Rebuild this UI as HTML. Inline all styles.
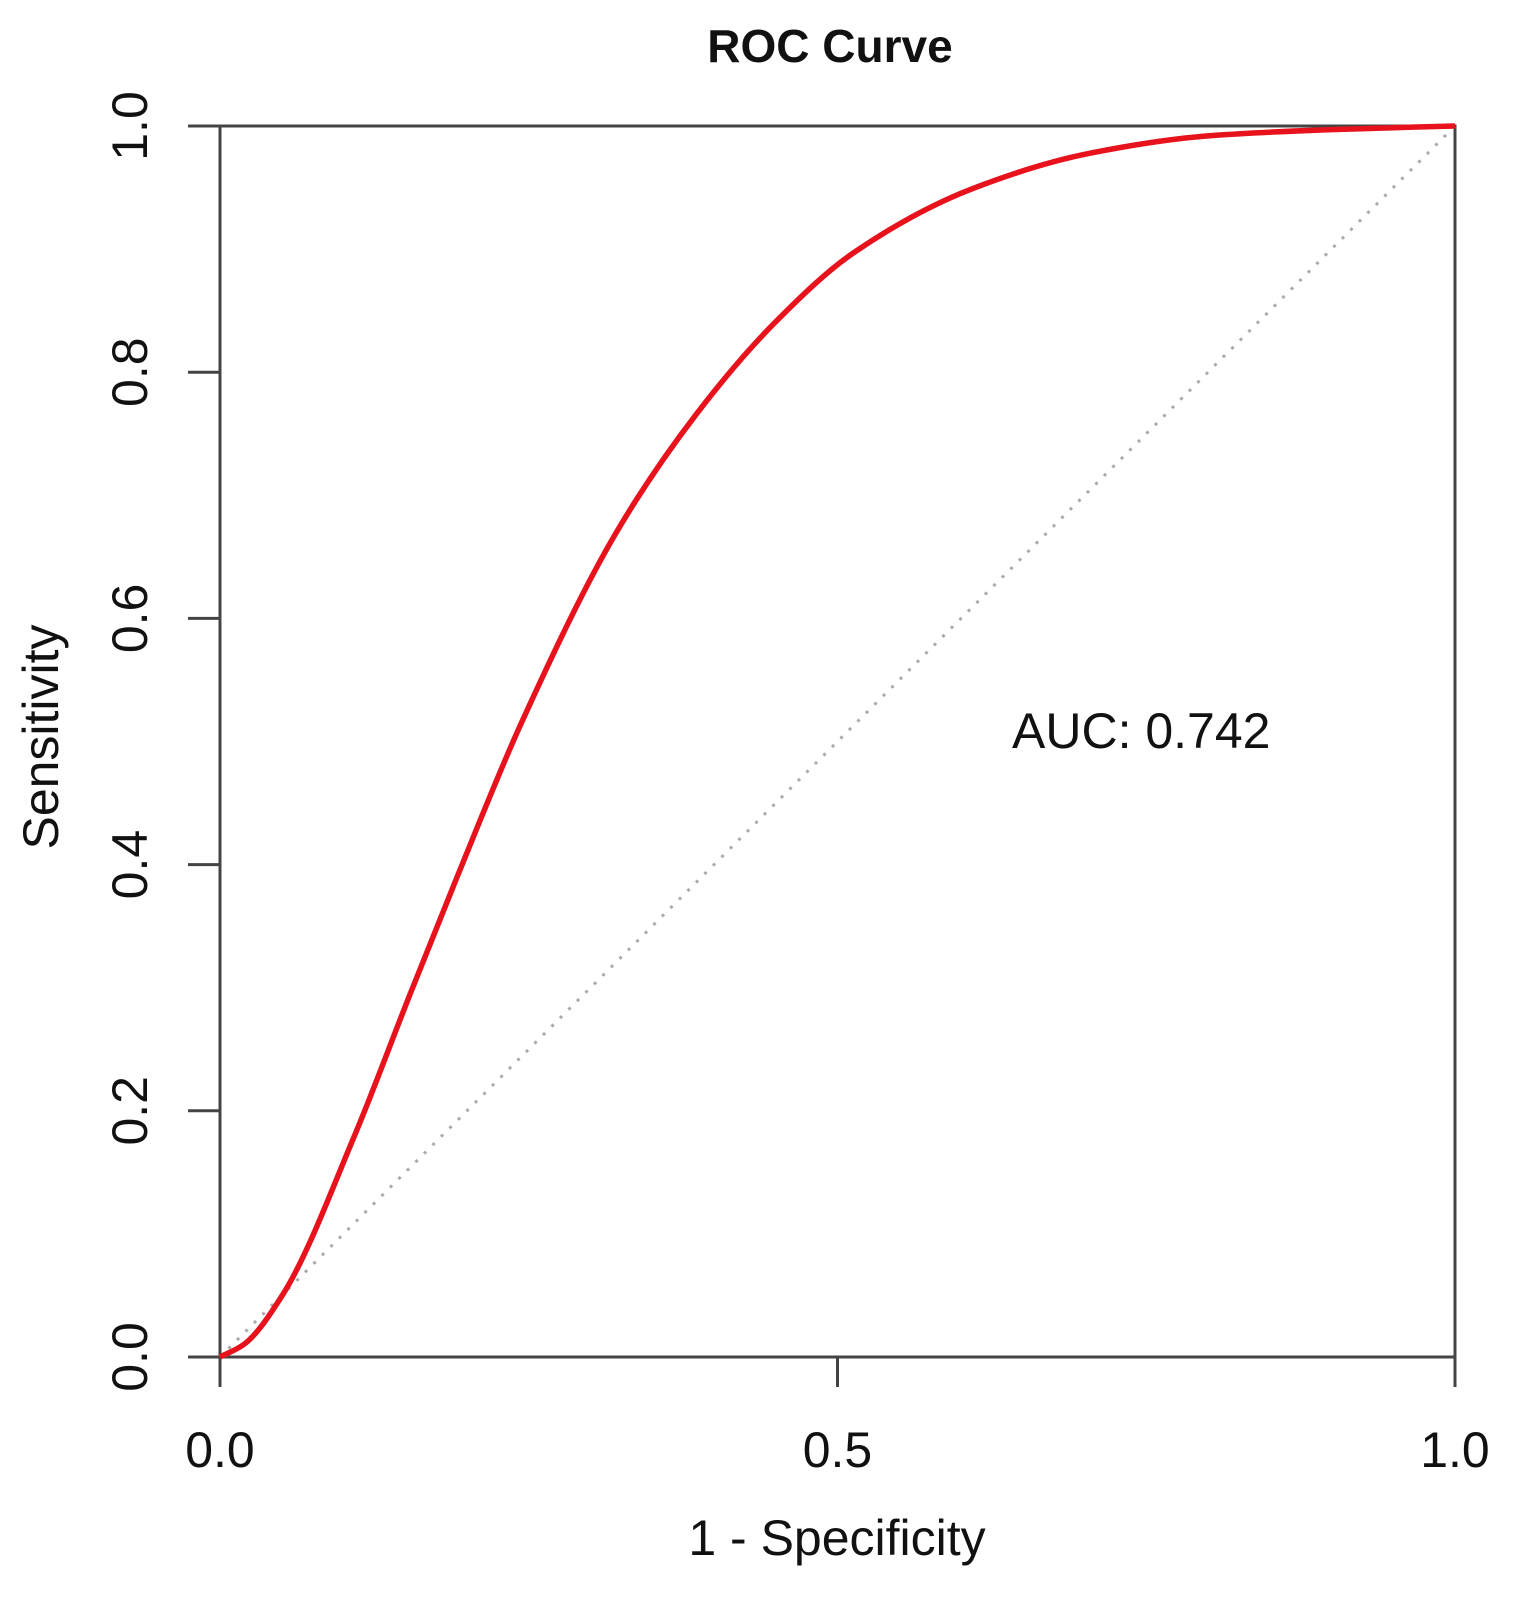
<!DOCTYPE html>
<html><head><meta charset="utf-8"><style>
html,body{margin:0;padding:0;background:#fff;}
svg{display:block;font-family:"Liberation Sans",Arial,sans-serif;}
</style></head><body>
<svg id="chart" width="1518" height="1606" viewBox="0 0 1518 1606">
<text x="830" y="62" font-size="46" font-weight="bold" text-anchor="middle" fill="#111">ROC Curve</text>
<text x="1012" y="748" font-size="50" fill="#111">AUC: 0.742</text>
<text x="837" y="1555" font-size="50" text-anchor="middle" fill="#111">1 - Specificity</text>
<text transform="translate(58,737) rotate(-90)" font-size="50" text-anchor="middle" fill="#111">Sensitivity</text>
<g id="axes"></g>
<g id="marks"></g>
</svg>
<script>
const fpr = [0, 0.019, 0.051, 0.109, 0.154, 0.192, 0.244, 0.321, 0.385, 0.449, 0.513, 0.609, 0.705, 0.80, 0.897, 1.0];
const tpr = [0, 0.010, 0.051, 0.180, 0.295, 0.390, 0.515, 0.670, 0.765, 0.840, 0.897, 0.949, 0.978, 0.992, 0.997, 1.0];
const xTicks = [0, 0.5, 1.0];
const xTickLabels = ["0.0", "0.5", "1.0"];
const yTicks = [0, 0.2, 0.4, 0.6, 0.8, 1.0];
const yTickLabels = ["0.0", "0.2", "0.4", "0.6", "0.8", "1.0"];

const L = 220, R = 1455, T = 126, B = 1357;
const sx = v => L + v * (R - L);
const sy = v => B - v * (B - T);
const NS = "http://www.w3.org/2000/svg";
const axes = document.getElementById('axes');
const marks = document.getElementById('marks');
function mk(tag, attrs, parent) {
  const e = document.createElementNS(NS, tag);
  for (const k in attrs) e.setAttribute(k, attrs[k]);
  parent.appendChild(e);
  return e;
}
const box = mk('rect', {x: L, y: T, width: R - L, height: B - T, fill: 'none', stroke: '#444', 'stroke-width': 3}, axes);


xTicks.forEach((v, i) => {
  const t = mk('line', {x1: sx(v), x2: sx(v), y1: B, y2: B + 30, stroke: '#444', 'stroke-width': 3}, axes);
  
  
  const lb = mk('text', {x: sx(v), y: 1467, 'font-size': 50, 'text-anchor': 'middle', fill: '#111'}, axes);
  lb.textContent = xTickLabels[i];
  
  
});
yTicks.forEach((v, i) => {
  const t = mk('line', {x1: L - 32, x2: L, y1: sy(v), y2: sy(v), stroke: '#444', 'stroke-width': 3}, axes);
  
  
  const lb = mk('text', {transform: `translate(147,${sy(v)}) rotate(-90)`, 'font-size': 50, 'text-anchor': 'middle', fill: '#111'}, axes);
  lb.textContent = yTickLabels[i];
  
  
});
const diag = mk('line', {x1: sx(0), y1: sy(0), x2: sx(1), y2: sy(1), stroke: '#aaa', 'stroke-width': 3, 'stroke-dasharray': '3 9'}, marks);


// monotone cubic (Fritsch-Carlson) in data space
const n = fpr.length;
const dlt = [], m = [];
for (let i = 0; i < n - 1; i++) dlt.push((tpr[i + 1] - tpr[i]) / (fpr[i + 1] - fpr[i]));
m[0] = dlt[0]; m[n - 1] = dlt[n - 2];
for (let i = 1; i < n - 1; i++) {
  if (dlt[i - 1] * dlt[i] <= 0) m[i] = 0;
  else {
    const h0 = fpr[i] - fpr[i - 1], h1 = fpr[i + 1] - fpr[i];
    const w1 = 2 * h1 + h0, w2 = h1 + 2 * h0;
    m[i] = (w1 + w2) / (w1 / dlt[i - 1] + w2 / dlt[i]);
  }
}
let d = `M${sx(fpr[0])},${sy(tpr[0])}`;
for (let i = 0; i < n - 1; i++) {
  const h = fpr[i + 1] - fpr[i];
  const c1x = fpr[i] + h / 3, c1y = tpr[i] + m[i] * h / 3;
  const c2x = fpr[i + 1] - h / 3, c2y = tpr[i + 1] - m[i + 1] * h / 3;
  d += ` C${sx(c1x)},${sy(c1y)} ${sx(c2x)},${sy(c2y)} ${sx(fpr[i + 1])},${sy(tpr[i + 1])}`;
}
const curve = mk('path', {d: d, fill: 'none', stroke: '#e8121c', 'stroke-width': 5.5, 'stroke-linejoin': 'round'}, marks);


</script>
</body></html>
